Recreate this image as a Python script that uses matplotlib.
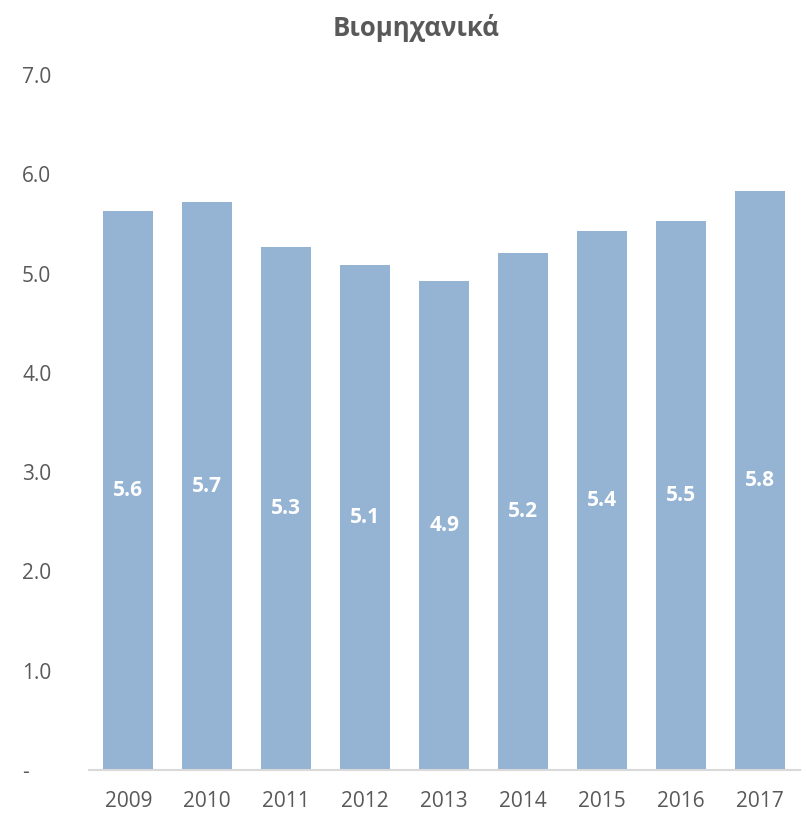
import matplotlib.pyplot as plt

plt.rcParams['font.family'] = ['Open Sans', 'DejaVu Sans']

years = ['2009', '2010', '2011', '2012', '2013', '2014', '2015', '2016', '2017']
values = [5.63, 5.72, 5.27, 5.09, 4.93, 5.21, 5.43, 5.53, 5.83]
labels = ['5.6', '5.7', '5.3', '5.1', '4.9', '5.2', '5.4', '5.5', '5.8']
yticks = [0, 1, 2, 3, 4, 5, 6, 7]
ytick_labels = ['-', '1.0', '2.0', '3.0', '4.0', '5.0', '6.0', '7.0']

grey = '#595959'

fig = plt.figure(figsize=(8.07, 8.15), dpi=100)
ax = fig.add_axes([0.110, 0.0552, 0.881, 0.8528])

x = range(len(years))
bars = ax.bar(x, values, width=0.63, color='#95B3D3')

for b, lab in zip(bars, labels):
    ax.text(b.get_x() + b.get_width() / 2, b.get_height() / 2, lab,
            ha='center', va='center', color='white', fontsize=15, fontweight='bold')

ax.set_xlim(-0.5, len(years) - 0.5)
ax.set_ylim(0, 7)
ax.set_yticks(yticks)
ax.set_yticklabels(ytick_labels)
ax.set_xticks(list(x))
ax.set_xticklabels(years)

for s in ['top', 'right', 'left']:
    ax.spines[s].set_visible(False)
ax.spines['bottom'].set_color('#D9D9D9')
ax.spines['bottom'].set_linewidth(1.5)
ax.tick_params(axis='both', length=0, labelsize=15, colors=grey)
ax.tick_params(axis='x', pad=15)
ax.tick_params(axis='y', pad=48)
for t in ax.get_yticklabels():
    t.set_horizontalalignment('left')

fig.text(0.515, 0.966, 'Βιομηχανικά', ha='center', va='center',
         fontsize=18.5, fontweight='bold', color=grey)

fig.savefig('out.png', dpi=100)
